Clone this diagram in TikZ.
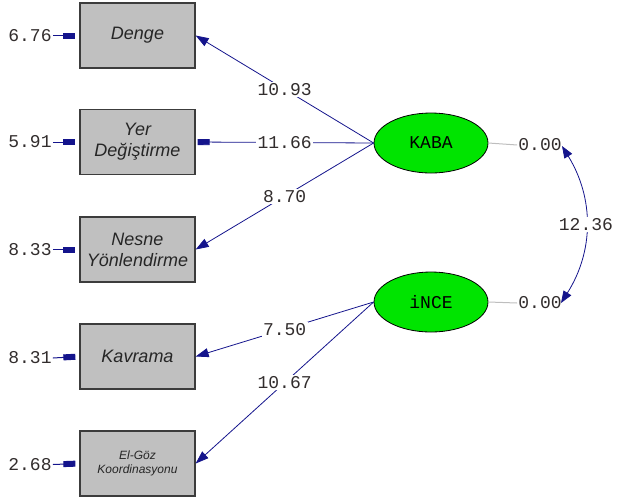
\documentclass[tikz,border=0pt]{standalone}
\usepackage{fontspec}
\setmainfont{Liberation Sans}
\newfontfamily\monof{Liberation Mono}
\usetikzlibrary{arrows.meta,shapes.geometric}
\definecolor{navy}{RGB}{20,20,140}
\definecolor{boxgray}{RGB}{192,192,192}
\definecolor{boxborder}{RGB}{60,60,60}
\definecolor{latgreen}{RGB}{0,228,0}
\definecolor{numcol}{RGB}{50,45,45}
\definecolor{zeroline}{RGB}{190,190,190}
\begin{document}
\begin{tikzpicture}[x=1pt,y=-1pt,
  obs/.style={draw=boxborder, line width=1.3pt, fill=boxgray, minimum width=115pt,
    minimum height=65pt, inner sep=0pt, align=center,
    font=\fontsize{18}{21}\selectfont\itshape, text=black!85},
  lat/.style={ellipse, draw=black, line width=0.8pt, fill=latgreen, minimum width=114pt,
    minimum height=60pt, inner sep=0pt, font=\monof\fontsize{18}{20}\selectfont},
  num/.style={font=\monof\fontsize{18}{20}\selectfont, text=numcol, inner sep=1pt},
  lbl/.style={num, fill=white, inner sep=1.5pt},
  loadarrow/.style={draw=navy, line width=0.8pt, -{Triangle[length=13pt,width=9pt]}},
  hloadarrow/.style={draw=navy, line width=0.8pt, -{Rectangle[length=12pt,width=6pt]}, shorten >=2pt},
  errarrow/.style={draw=navy, line width=1pt, -{Rectangle[length=12pt,width=6pt]}, shorten >=4pt},
  corr/.style={draw=navy, line width=0.8pt, {Triangle[length=12pt,width=9pt]}-{Triangle[length=12pt,width=9pt]}}]
\useasboundingbox (0,0) rectangle (617,499);

% observed variables
\node[obs] (denge) at (137.5,35.5) {Denge};
\node[obs] (yer)   at (137.5,142) {Yer\\Değiştirme};
\node[obs] (nesne) at (137.5,249.5) {Nesne\\Yönlendirme};
\node[obs] (kavr)  at (137.5,356.5) {Kavrama};
\node[obs, font=\fontsize{12}{14}\selectfont\itshape] (elgoz) at (137.5,463.5) {El-Göz\\Koordinasyonu};

% error variances
\node[num] (e1) at (30,35.5) {6.76};
\node[num] (e2) at (30,142) {5.91};
\node[num] (e3) at (30,249.5) {8.33};
\node[num] (e4) at (30,358) {8.31};
\node[num] (e5) at (30,464.5) {2.68};
\draw[errarrow] (e1.east) -- (denge.west);
\draw[errarrow] (e2.east) -- (yer.west);
\draw[errarrow] (e3.east) -- (nesne.west);
\draw[errarrow] (e4.east) -- (kavr.west);
\draw[errarrow] (e5.east) -- (elgoz.west);

% latent variables
\node[lat] (kaba) at (431,143) {KABA};
\node[lat] (ince) at (431,302) {iNCE};

% loadings
\draw[loadarrow] (kaba.west) -- node[lbl] {10.93} (denge.east);
\draw[hloadarrow] (kaba.west) -- node[lbl] {11.66} (yer.east);
\draw[loadarrow] (kaba.west) -- node[lbl] {8.70} (nesne.east);
\draw[loadarrow] (ince.west) -- node[lbl] {7.50} (kavr.east);
\draw[loadarrow] (ince.west) -- node[lbl] {10.67} (elgoz.east);

% latent variances
\node[num] (z1) at (540,145) {0.00};
\node[num] (z2) at (540,303) {0.00};
\draw[zeroline, line width=1pt] (kaba.east) -- (z1.west);
\draw[zeroline, line width=1pt] (ince.east) -- (z2.west);

% covariance
\coordinate (ca) at (562,146);
\coordinate (cb) at (561,303);
\draw[corr] (ca) to[bend left=32] node[lbl] {12.36} (cb);
\end{tikzpicture}
\end{document}
